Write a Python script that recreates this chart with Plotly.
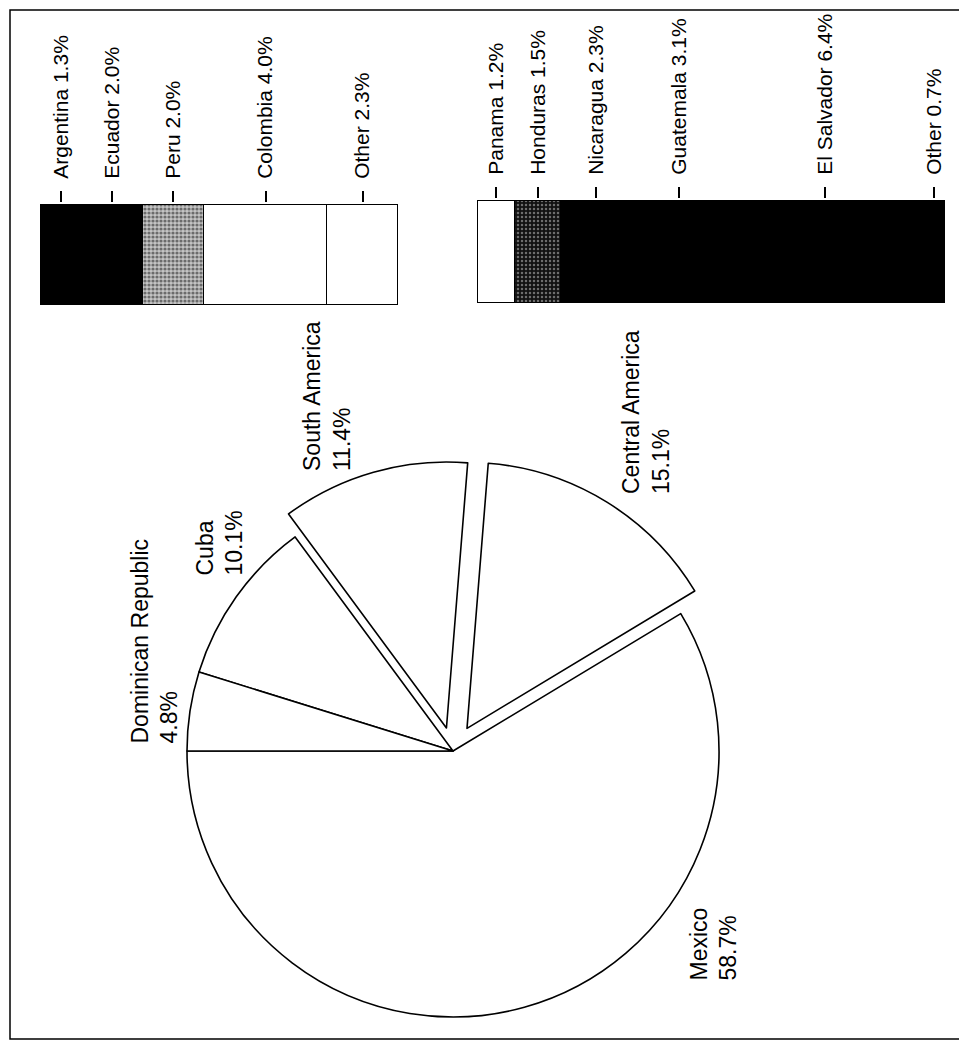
import plotly.graph_objects as go
import numpy as np

# ---------------- data ----------------
pie_labels = ["Mexico", "Central America", "South America", "Cuba", "Dominican Republic"]
pie_values = [58.7, 15.1, 11.4, 10.1, 4.8]
pie_pull = [0, 0.10, 0.09, 0, 0]

sa_names = ["Argentina", "Ecuador", "Peru", "Colombia", "Other"]
sa_values = [1.3, 2.0, 2.0, 4.0, 2.3]

ca_names = ["Panama", "Honduras", "Nicaragua", "Guatemala", "El Salvador", "Other"]
ca_values = [1.2, 1.5, 2.3, 3.1, 6.4, 0.7]

# ---------------- layout / styles ----------------
VW, VH = 967, 1047          # browser window
OFF = 8                     # default page body margin
W, H = VW - OFF, VH - OFF   # figure size
FONT = "Liberation Sans, Arial, Helvetica, sans-serif"
PAD = 2                     # px of room around the bars so outlines are not clipped

sa_styles = [
    dict(color="black"),
    dict(color="black"),
    dict(color="#8c8c8c", pattern=dict(shape=".", fgcolor="#111", bgcolor="#c4c4c4", size=4, solidity=0.5)),
    dict(color="white"),
    dict(color="white"),
]
ca_styles = [
    dict(color="white"),
    dict(color="#3a3a3a", pattern=dict(shape=".", fgcolor="#c8c8c8", bgcolor="#111", size=4, solidity=0.3)),
    dict(color="black"),
    dict(color="black"),
    dict(color="black"),
    dict(color="black"),
]

# convert window pixels to paper fractions
def px_x(p):
    return (p - OFF) / W

def px_y(p):
    return 1 - (p - OFF) / H

# pie geometry (window pixels): centre and radius
cx, cy, r = 453, 751, 266
maxpull = max(pie_pull)
half = r * (1 + maxpull)
# first slice (Mexico) starts at 9 o'clock and runs counterclockwise
rotation = 270 - 360 * pie_values[0] / sum(pie_values)

# label anchor positions (window pixels): centre x, bottom y
pie_label_pos = {
    "Mexico": (713, 983),
    "Central America": (646, 496),
    "South America": (327, 473),
    "Cuba": (219, 578),
    "Dominican Republic": (154, 746),
}

fig = go.Figure()

fig.add_trace(go.Pie(
    labels=pie_labels, values=pie_values, pull=pie_pull,
    sort=False, direction="counterclockwise", rotation=rotation,
    textinfo="none", hoverinfo="label+percent", showlegend=False,
    marker=dict(colors=["white"] * len(pie_values), line=dict(color="black", width=1.6)),
    domain=dict(x=[px_x(cx - half), px_x(cx + half)], y=[px_y(cy + half), px_y(cy - half)]),
))

def add_bar(names, values, styles, xaxis, yaxis):
    for n, v, s in zip(names, values, styles):
        m = dict(s)
        m["line"] = dict(color="black", width=1.5)
        fig.add_trace(go.Bar(
            x=[v], y=[0], orientation="h", name=n, marker=m, width=1,
            xaxis=xaxis, yaxis=yaxis, showlegend=False,
            hovertemplate=f"{n} {v:.1f}%<extra></extra>",
        ))

add_bar(sa_names, sa_values, sa_styles, "x", "y")
add_bar(ca_names, ca_values, ca_styles, "x2", "y2")

def mids(vals):
    c = np.cumsum([0] + list(vals))
    return list((c[:-1] + c[1:]) / 2)

def axis_x(names, values, left, right, anchor):
    total = sum(values)
    u = PAD * total / (right - left)
    return dict(
        domain=[px_x(left - PAD), px_x(right + PAD)], range=[-u, total + u], anchor=anchor,
        side="top", showgrid=False, zeroline=False, showline=False,
        tickmode="array", tickvals=mids(values),
        ticktext=[f"{n} {v:.1f}%" for n, v in zip(names, values)],
        tickangle=-90, ticks="outside", ticklen=11, tickwidth=1.5, tickcolor="black",
        tickfont=dict(family=FONT, size=21, color="black"), ticklabelstandoff=8,
        fixedrange=True,
    )

def axis_y(top, bottom):
    u = PAD / (bottom - top)
    return dict(domain=[px_y(bottom + PAD), px_y(top - PAD)], range=[-0.5 - u, 0.5 + u],
                visible=False, fixedrange=True)

annotations = []
for lab, val in zip(pie_labels, pie_values):
    x0, y0 = pie_label_pos[lab]
    annotations.append(dict(
        text=f"{lab}<br>{val:.1f}%", x=px_x(x0), y=px_y(y0), xref="paper", yref="paper",
        xanchor="center", yanchor="bottom", showarrow=False, textangle=-90, align="left",
        font=dict(family=FONT, size=23, color="black"),
    ))

fig.update_layout(
    width=W, height=H, margin=dict(l=0, r=0, t=0, b=0),
    paper_bgcolor="white", plot_bgcolor="white",
    barmode="stack", bargap=0,
    xaxis=axis_x(sa_names, sa_values, 41, 398, "y"),
    yaxis=axis_y(205, 305),
    xaxis2=axis_x(ca_names, ca_values, 478, 945, "y2"),
    yaxis2=axis_y(201, 303),
    annotations=annotations,
    shapes=[dict(type="rect", xref="paper", yref="paper",
                 x0=px_x(10), x1=px_x(964), y0=px_y(1039), y1=px_y(10),
                 line=dict(color="black", width=1.5))],
    font=dict(family=FONT, color="black"),
)

fig.write_html("out.html")
